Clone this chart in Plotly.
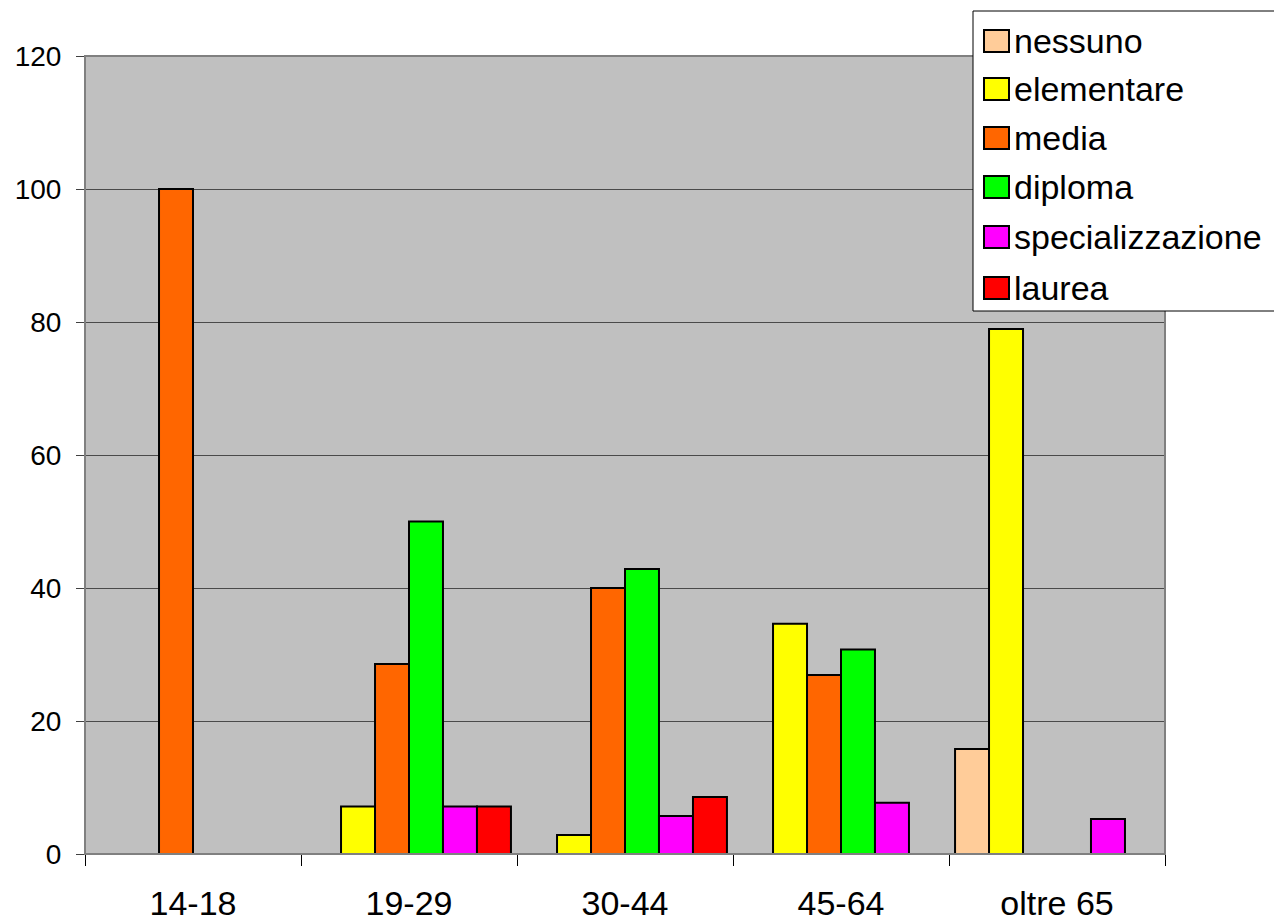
import plotly.graph_objects as go

categories = ["14-18", "19-29", "30-44", "45-64", "oltre 65"]
series_names = ["nessuno", "elementare", "media", "diploma", "specializzazione", "laurea"]
nessuno = [None, None, None, None, 15.79]
elementare = [None, 7.14, 2.86, 34.62, 78.95]
media = [100, 28.57, 40.0, 26.92, None]
diploma = [None, 50.0, 42.86, 30.77, None]
specializzazione = [None, 7.14, 5.71, 7.69, 5.26]
laurea = [None, 7.14, 8.57, None, None]
y_ticks = [0, 20, 40, 60, 80, 100, 120]

colors = ["#FFCC99", "#FFFF00", "#FF6600", "#00FF00", "#FF00FF", "#FF0000"]
values = [nessuno, elementare, media, diploma, specializzazione, laurea]

W, H = 1274, 921
L, R, T, B = 85, 109, 56, 67
pw, ph = W - L - R, H - T - B

def px_x(x):
    return (x - L) / pw

def px_y(y):
    return (H - B - y) / ph

FONT = "Liberation Sans, Arial, sans-serif"

fig = go.Figure()
for name, vals, col in zip(series_names, values, colors):
    fig.add_trace(go.Bar(
        x=categories, y=vals, name=name,
        marker=dict(color=col, line=dict(color="black", width=2)),
        showlegend=False,
    ))

shapes = []
annotations = []
# plot area border
shapes.append(dict(type="rect", xref="paper", yref="paper", x0=0, x1=1, y0=0, y1=1,
                   line=dict(color="#808080", width=2), fillcolor="rgba(0,0,0,0)", layer="above"))
# custom legend box
shapes.append(dict(type="rect", xref="paper", yref="paper",
                   x0=px_x(973), x1=px_x(1290), y0=px_y(311), y1=px_y(11),
                   line=dict(color="black", width=1), fillcolor="white", layer="above"))
item_y = [41, 89, 138, 187, 237, 288]
for name, col, yc in zip(series_names, colors, item_y):
    shapes.append(dict(type="rect", xref="paper", yref="paper",
                       x0=px_x(984), x1=px_x(1009), y0=px_y(yc + 11), y1=px_y(yc - 11),
                       line=dict(color="black", width=2), fillcolor=col, layer="above"))
    annotations.append(dict(xref="paper", yref="paper", x=px_x(1012), y=px_y(yc),
                            text=name, showarrow=False, xanchor="left", yanchor="middle",
                            font=dict(family=FONT, size=34, color="black")))

fig.update_layout(
    width=W, height=H,
    margin=dict(l=L, r=R, t=T, b=B, pad=0, autoexpand=False),
    paper_bgcolor="white",
    plot_bgcolor="#C0C0C0",
    barmode="group",
    bargap=0.056,
    bargroupgap=0,
    font=dict(family=FONT, color="black"),
    shapes=shapes,
    annotations=annotations,
    showlegend=False,
)
fig.update_xaxes(
    type="category", automargin=False,
    showgrid=False,
    ticks="outside", tickson="boundaries", ticklen=11, tickcolor="black", tickwidth=1,
    showline=True, linecolor="black", linewidth=1,
    tickfont=dict(family=FONT, size=34, color="black"),
    ticklabelstandoff=19,
)
fig.update_yaxes(
    range=[0, 120], tickvals=y_ticks, automargin=False,
    showgrid=True, gridcolor="#4a4a4a", gridwidth=1,
    zeroline=False,
    ticks="outside", ticklen=8, tickcolor="#404040", tickwidth=1,
    showline=True, linecolor="#606060", linewidth=1,
    tickfont=dict(family=FONT, size=28, color="black"),
    ticklabelstandoff=9,
)

fig.write_html("out.html", config={"displayModeBar": False},
               post_script="document.body.style.margin='0';document.body.style.overflow='hidden';")
